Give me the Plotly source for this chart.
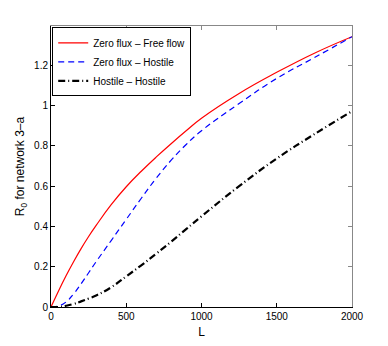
import plotly.graph_objects as go

L = [0, 50, 100, 150, 200, 250, 300, 400, 500, 600, 700, 800, 900, 1000,
     1250, 1500, 1750, 2000]

# R0 for network 3-a, one list per boundary-condition pair
zero_free = [0, 0.08, 0.155, 0.225, 0.29, 0.35, 0.405, 0.508, 0.597, 0.674,
             0.745, 0.812, 0.876, 0.937, 1.06, 1.165, 1.26, 1.342]
zero_hostile = [0, 0.005, 0.025, 0.065, 0.115, 0.17, 0.225, 0.33, 0.435, 0.54,
                0.64, 0.73, 0.808, 0.875, 1.01, 1.135, 1.238, 1.342]
hostile_hostile = [0, 0, 0.006, 0.015, 0.028, 0.042, 0.057, 0.098, 0.152,
                   0.207, 0.265, 0.325, 0.388, 0.45, 0.60, 0.737, 0.858, 0.972]

series_names = ["Zero flux \u2013 Free flow", "Zero flux \u2013 Hostile",
                "Hostile \u2013 Hostile"]

x_ticks = [0, 500, 1000, 1500, 2000]
y_ticks = [0, 0.2, 0.4, 0.6, 0.8, 1, 1.2]
y_tick_text = ["0", "0.2", "0.4", "0.6", "0.8", "1", "1.2"]

FONT = "Liberation Sans, Arial, Helvetica, sans-serif"

fig = go.Figure()
fig.add_trace(go.Scatter(x=L, y=zero_free, mode="lines", name=series_names[0],
                         line=dict(color="#ff0000", width=1.2,
                                   shape="spline", smoothing=1.3)))
fig.add_trace(go.Scatter(x=L, y=zero_hostile, mode="lines", name=series_names[1],
                         line=dict(color="#0000ff", width=1.2, dash="6px,4px",
                                   shape="spline", smoothing=1.3)))
fig.add_trace(go.Scatter(x=L, y=hostile_hostile, mode="lines", name=series_names[2],
                         line=dict(color="#000000", width=2.2,
                                   dash="7px,3px,1px,3px",
                                   shape="spline", smoothing=1.3)))
# invisible trace so the grey top/right box axes get drawn
fig.add_trace(go.Scatter(x=[None], y=[None], xaxis="x2", yaxis="y2",
                         showlegend=False, hoverinfo="skip"))

# the page body has an 8px default margin, so the figure is 8px smaller
fig.update_layout(
    width=380, height=338,
    margin=dict(l=43, r=36, t=18, b=39),
    paper_bgcolor="white", plot_bgcolor="white",
    font=dict(family=FONT, size=10, color="black"),
    showlegend=True,
    legend=dict(x=0.004, y=0.995, xanchor="left", yanchor="top",
                bgcolor="white", bordercolor="black", borderwidth=1,
                font=dict(size=10), tracegroupgap=0, itemwidth=30),
    xaxis=dict(range=[0, 2000], tickvals=x_ticks, ticks="inside", ticklen=4,
               showgrid=False, zeroline=False, showline=True,
               linecolor="black", linewidth=1, tickcolor="black",
               automargin=False,
               title=dict(text="L", standoff=6)),
    yaxis=dict(range=[0, 1.395], tickvals=y_ticks, ticktext=y_tick_text,
               ticks="inside", ticklen=4, showgrid=False, zeroline=False,
               showline=True, linecolor="black", linewidth=1,
               tickcolor="black", automargin=False,
               title=dict(text="R<sub>0</sub> for network 3\u2013a", standoff=6)),
    xaxis2=dict(overlaying="x", matches="x", side="top", anchor="y2",
                tickvals=x_ticks, ticks="inside", ticklen=4,
                showticklabels=False, showgrid=False, zeroline=False,
                showline=True, linecolor="#888888", tickcolor="#888888",
                automargin=False),
    yaxis2=dict(overlaying="y", matches="y", side="right", anchor="x2",
                tickvals=y_ticks, ticks="inside", ticklen=4,
                showticklabels=False, showgrid=False, zeroline=False,
                showline=True, linecolor="#888888", tickcolor="#888888",
                automargin=False),
)

fig.write_html("out.html")
